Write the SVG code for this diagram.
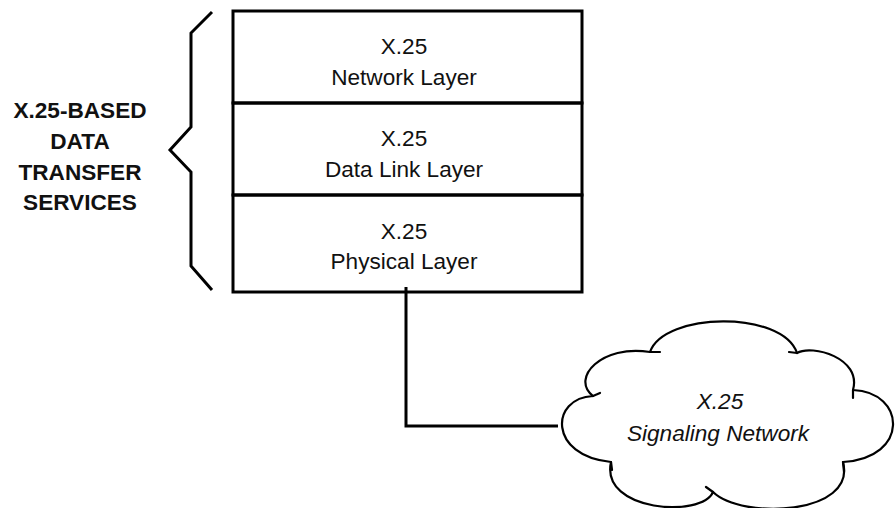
<svg xmlns="http://www.w3.org/2000/svg" width="895" height="508" viewBox="0 0 895 508">
<style>
.t{font-family:"Liberation Sans",Arial,sans-serif;font-size:22.6px;fill:#111;text-anchor:middle}
.b{font-weight:bold}
.i{font-style:italic}
.ln{fill:none;stroke:#000;stroke-width:3}
.cl{fill:#fff;stroke:#000;stroke-width:2.2;stroke-linejoin:round;stroke-linecap:round}
</style>
<rect width="895" height="508" fill="#fff"/>
<g id="brace">
<path class="ln" d="M212 12 L191 33 L191 127 L170 150 L191 172 L191 266 L212 290" stroke-width="2.6"/>
</g>
<g id="label">
<text class="t b" x="80" y="118">X.25-BASED</text>
<text class="t b" x="80" y="149">DATA</text>
<text class="t b" x="80" y="180">TRANSFER</text>
<text class="t b" x="80" y="210">SERVICES</text>
</g>
<g id="connectors">
<path class="ln" d="M406 287 L406 426 L558 426"/>
</g>
<g id="network-layer">
<rect class="ln" x="233" y="11" width="349" height="92"/>
<text class="t" x="404" y="54">X.25</text>
<text class="t" x="404" y="85">Network Layer</text>
</g>
<g id="data-link-layer">
<rect class="ln" x="233" y="103" width="349" height="92"/>
<text class="t" x="404" y="146">X.25</text>
<text class="t" x="404" y="177">Data Link Layer</text>
</g>
<g id="physical-layer">
<rect class="ln" x="233" y="195" width="349" height="97"/>
<text class="t" x="404" y="239">X.25</text>
<text class="t" x="404" y="269">Physical Layer</text>
</g>
<g id="cloud">
<path class="cl" d="M593 396 C550 398 548 456 611 462 C600 512 702 518 713 492 C742 520 857 515 843 462 C910 458 906 392 853 390 C862 358 812 344 797 353 C782 310 664 312 650 352 C602 344 570 378 593 396 Z"/>
<path class="cl" d="M593 396 L600 393 M611 462 L612 470 M713 492 L706 487 M843 462 L844 472 M853 390 L853 398 M797 353 L789 352 M650 352 L660 352"/>
<text class="t i" x="720" y="409">X.25</text>
<text class="t i" x="718" y="441">Signaling Network</text>
</g>
</svg>
